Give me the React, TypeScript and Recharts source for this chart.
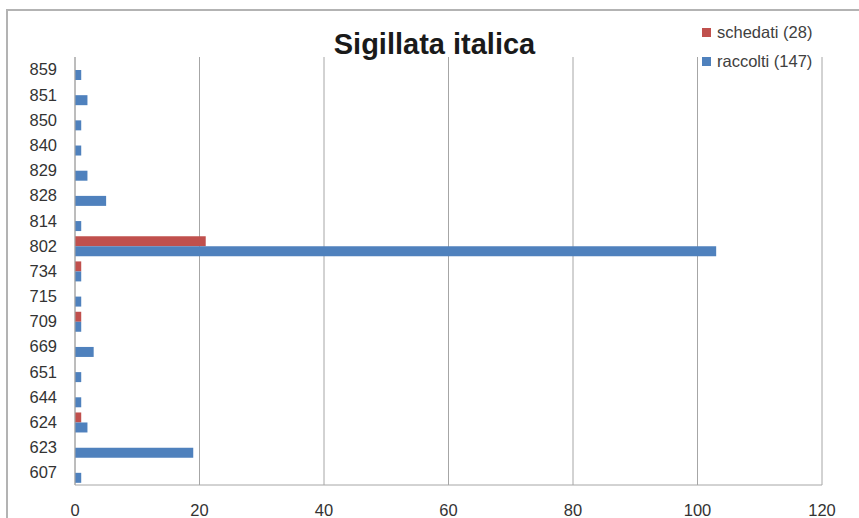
import { BarChart, Bar, XAxis, YAxis, CartesianGrid } from "recharts";

const categories = [
  "859", "851", "850", "840", "829", "828", "814", "802", "734",
  "715", "709", "669", "651", "644", "624", "623", "607",
];
const schedati = [0, 0, 0, 0, 0, 0, 0, 21, 1, 0, 1, 0, 0, 0, 1, 0, 0];
const raccolti = [1, 2, 1, 1, 2, 5, 1, 103, 1, 1, 1, 3, 1, 1, 2, 19, 1];
const xTicks = [0, 20, 40, 60, 80, 100, 120];

const seriesNames = ["schedati (28)", "raccolti (147)"];
const seriesColors = ["#C0504D", "#4F81BD"];

const data = categories.map((name, i) => ({
  name,
  schedati: schedati[i],
  raccolti: raccolti[i],
}));

const font = "'Liberation Sans', Arial, sans-serif";

export default function App() {
  return (
    <div
      style={{
        position: "absolute",
        left: 0,
        top: 0,
        width: 859,
        height: 518,
        overflow: "hidden",
        background: "#fff",
      }}
    >
      <div
        style={{
          position: "absolute",
          left: 6,
          top: 9,
          width: 900,
          height: 600,
          borderLeft: "2px solid #b3b3b3",
          borderTop: "2px solid #b3b3b3",
        }}
      />
      <div
        style={{
          position: "absolute",
          left: 0,
          top: 0,
        }}
      >
        <BarChart
          width={859}
          height={518}
          data={data}
          layout="vertical"
          margin={{ top: 57, right: 37, bottom: 0, left: 0 }}
          barCategoryGap={3}
          barGap={0}
        >
          <CartesianGrid horizontal={false} stroke="#a6a6a6" />
          <XAxis
            type="number"
            domain={[0, 120]}
            ticks={xTicks}
            interval={0}
            height={33}
            tickLine={false}
            tickSize={0}
            tickMargin={19}
            axisLine={{ stroke: "#a6a6a6" }}
            tick={{ fill: "#333", fontSize: 16.5, fontFamily: font }}
          />
          <YAxis
            type="category"
            dataKey="name"
            width={75}
            interval={0}
            tickLine={false}
            tickSize={0}
            tickMargin={18}
            axisLine={{ stroke: "#a6a6a6" }}
            tick={{ fill: "#333", fontSize: 16.5, fontFamily: font }}
          />
          <Bar
            dataKey="schedati"
            name={seriesNames[0]}
            fill={seriesColors[0]}
            isAnimationActive={false}
          />
          <Bar
            dataKey="raccolti"
            name={seriesNames[1]}
            fill={seriesColors[1]}
            isAnimationActive={false}
          />
        </BarChart>
      </div>
      <div
        style={{
          position: "absolute",
          left: 5,
          width: 859,
          top: 28,
          textAlign: "center",
          fontFamily: font,
          fontWeight: "bold",
          fontSize: 29,
          color: "#1a1a1a",
        }}
      >
        Sigillata italica
      </div>
      <div
        style={{
          position: "absolute",
          left: 702,
          top: 18,
          background: "#fff",
          fontFamily: font,
          fontSize: 16.5,
          color: "#404040",
        }}
      >
        {seriesNames.map((n, i) => (
          <div
            key={n}
            style={{ display: "flex", alignItems: "center", height: 29 }}
          >
            <span
              style={{
                width: 9,
                height: 9,
                background: seriesColors[i],
                marginRight: 6,
                display: "inline-block",
              }}
            />
            {n}
          </div>
        ))}
      </div>
    </div>
  );
}
